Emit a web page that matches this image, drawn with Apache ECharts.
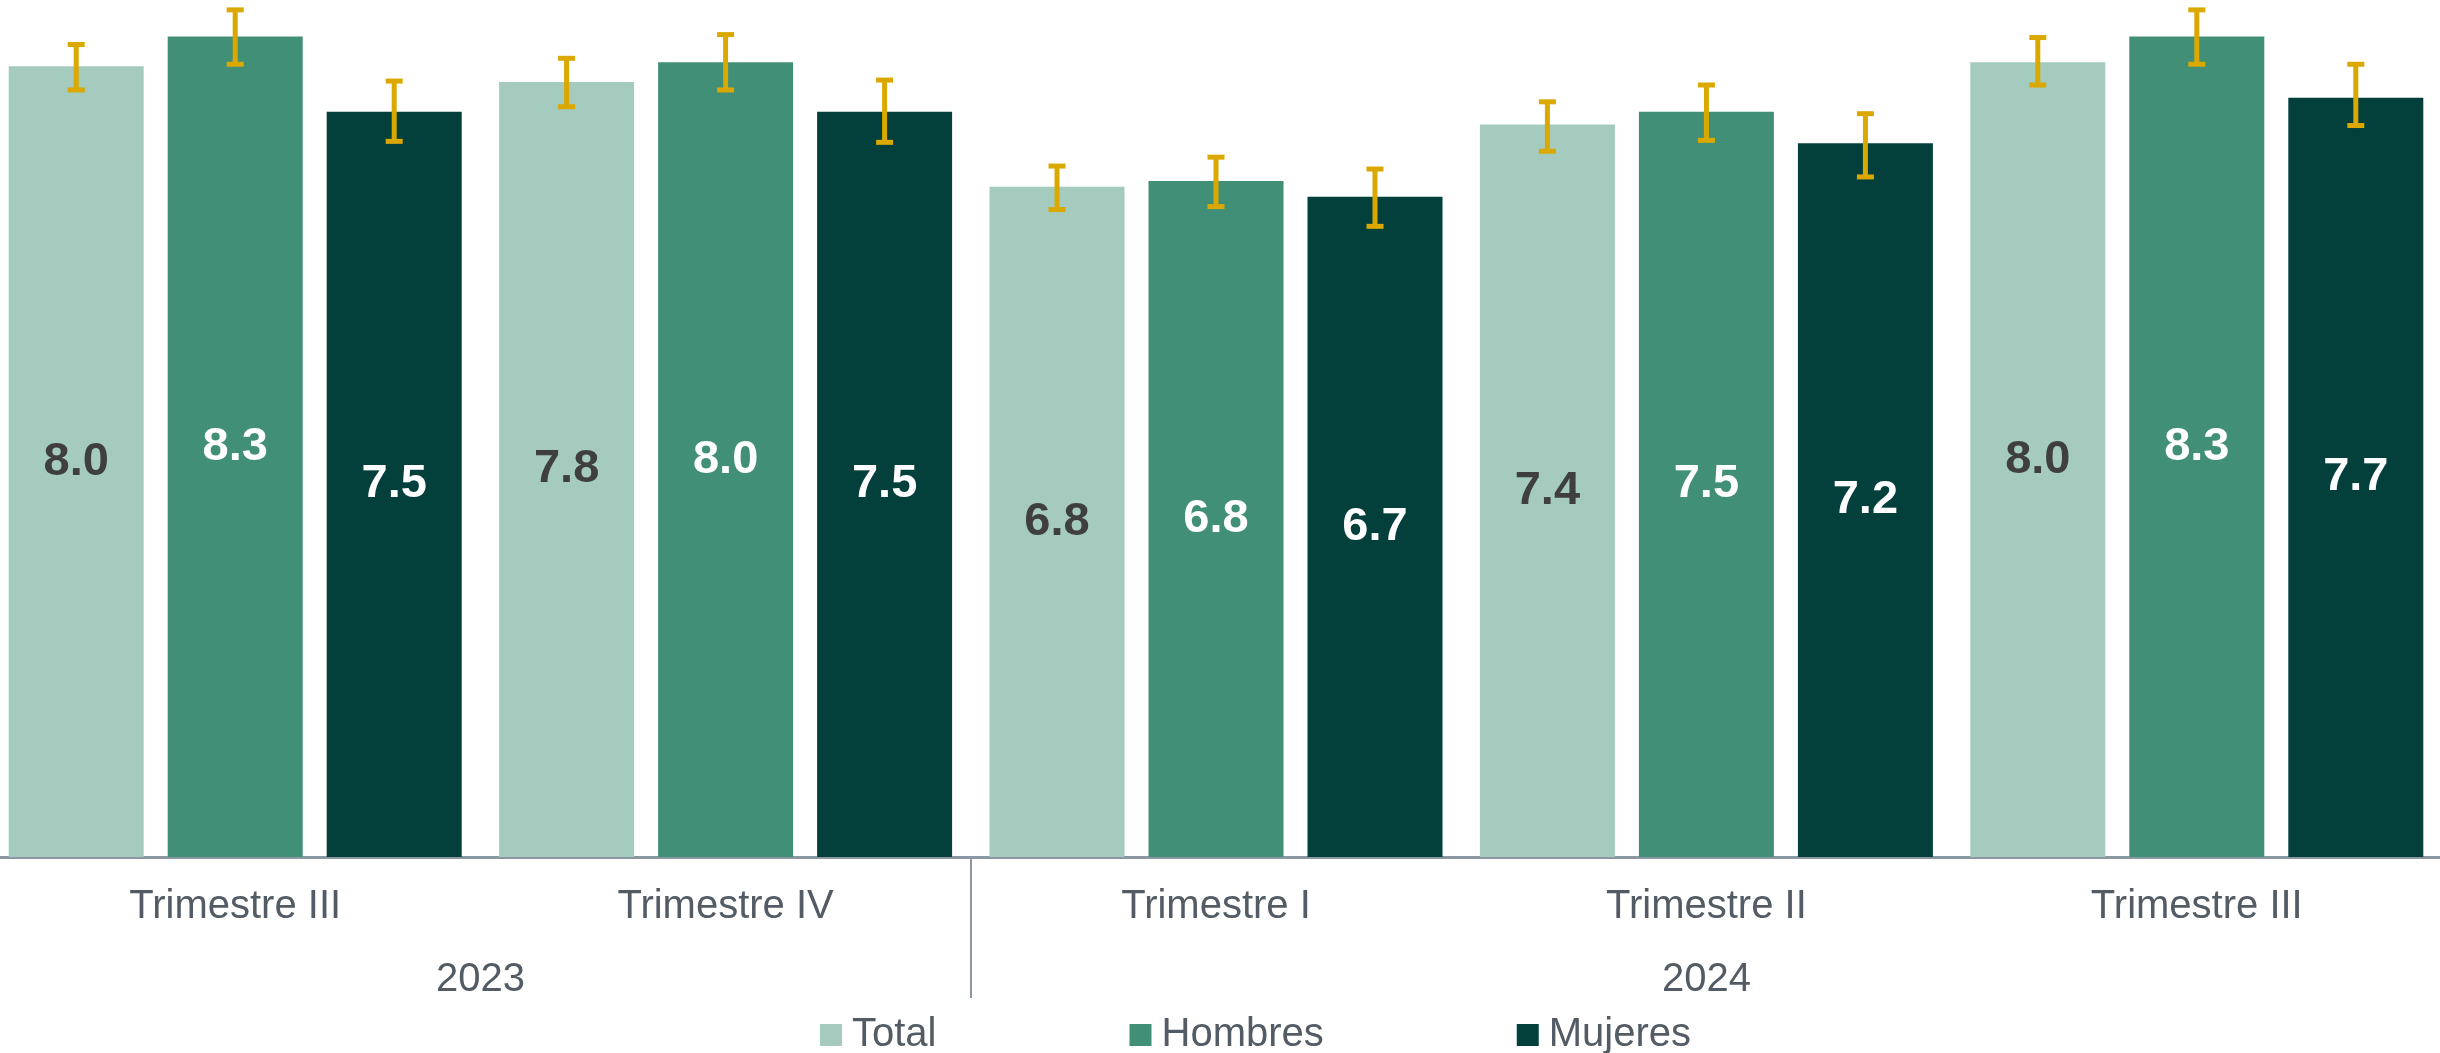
<!DOCTYPE html>
<html>
<head>
<meta charset="utf-8">
<script src="https://cdn.jsdelivr.net/npm/echarts@6/dist/echarts.min.js"></script>
<style>
  html, body { margin: 0; padding: 0; background: #fff; }
  #chart { width: 2440px; height: 1053px; }
</style>
</head>
<body>
<div id="chart"></div>
<script>
// categories
const trimestres = ['Trimestre III', 'Trimestre IV', 'Trimestre I', 'Trimestre II', 'Trimestre III']
const years = ['2023', '2024']
const yearSpans = [2, 3] // how many trimestres belong to each year

// values
const total = [8.00, 7.84, 6.78, 7.41, 8.04]
const hombres = [8.30, 8.04, 6.84, 7.54, 8.30]
const mujeres = [7.54, 7.54, 6.68, 7.22, 7.68]

// confidence intervals (low / high)
const totalLow = [7.76, 7.59, 6.55, 7.14, 7.81]
const totalHigh = [8.22, 8.08, 6.99, 7.64, 8.29]
const hombresLow = [8.02, 7.76, 6.58, 7.25, 8.02]
const hombresHigh = [8.57, 8.32, 7.08, 7.81, 8.57]
const mujeresLow = [7.24, 7.23, 6.38, 6.88, 7.40]
const mujeresHigh = [7.85, 7.86, 6.96, 7.52, 8.02]

const colors = ['#a4cbbe', '#428f77', '#03403c']
const labelColors = ['#3f3f3f', '#ffffff', '#ffffff']
const errColor = '#dba800'
const axisColor = '#8b97a2'
const textColor = '#535b64'
const font = '"Liberation Sans", Arial, sans-serif'

const barWidth = 135
const barGapPx = 24

// year separators and year label positions on a 0..n scale
const yearBounds = [0]
yearSpans.forEach(s => yearBounds.push(yearBounds[yearBounds.length - 1] + s))
const yearCenters = years.map((y, i) => (yearBounds[i] + yearBounds[i + 1]) / 2)

const chart = echarts.init(document.getElementById('chart'))

function barSeries(name, data, idx) {
  return {
    name: name,
    type: 'bar',
    data: data,
    barWidth: barWidth,
    barGap: (barGapPx / barWidth * 100) + '%',
    itemStyle: { color: colors[idx] },
    label: {
      show: true,
      position: 'inside',
      fontSize: 47,
      fontWeight: 'bold',
      fontFamily: font,
      color: labelColors[idx],
      formatter: p => p.value.toFixed(1)
    }
  }
}

function errorSeries(low, high, idx) {
  return {
    type: 'custom',
    z: 5,
    silent: true,
    data: low.map((l, i) => [i, l, high[i]]),
    renderItem: function (params, api) {
      const lo = api.coord([api.value(0), api.value(1)])
      const hi = api.coord([api.value(0), api.value(2)])
      const x = lo[0] + (idx - 1) * (barWidth + barGapPx)
      const capW = 17
      const capH = 5
      return {
        type: 'group',
        children: [
          {
            type: 'line',
            shape: { x1: x, y1: hi[1], x2: x, y2: lo[1] },
            style: { stroke: errColor, lineWidth: 5 }
          },
          {
            type: 'rect',
            shape: { x: x - capW / 2, y: hi[1] - capH / 2, width: capW, height: capH },
            style: { fill: errColor }
          },
          {
            type: 'rect',
            shape: { x: x - capW / 2, y: lo[1] - capH / 2, width: capW, height: capH },
            style: { fill: errColor }
          }
        ]
      }
    }
  }
}

chart.setOption({
  animation: false,
  backgroundColor: '#ffffff',
  grid: {
    left: -10,
    right: -2,
    top: 0,
    bottom: 196,
    containLabel: false,
    outerBoundsMode: 'none'
  },
  legend: {
    data: ['Total', 'Hombres', 'Mujeres'],
    left: 820,
    top: 1015,
    padding: 0,
    icon: 'rect',
    itemWidth: 22,
    itemHeight: 22,
    itemGap: 193,
    textStyle: {
      fontSize: 40,
      fontFamily: font,
      color: textColor,
      padding: [0, 0, 0, 5]
    }
  },
  xAxis: [
    {
      type: 'category',
      data: trimestres,
      axisLine: { lineStyle: { color: axisColor, width: 3 } },
      axisTick: { show: false },
      axisLabel: {
        fontSize: 40,
        fontFamily: font,
        color: textColor,
        margin: 30,
        interval: 0
      }
    },
    {
      type: 'value',
      position: 'bottom',
      min: 0,
      max: trimestres.length,
      axisLine: { show: false },
      splitLine: { show: false },
      axisTick: {
        show: true,
        customValues: yearBounds,
        length: 141,
        lineStyle: { color: axisColor, width: 2 }
      },
      axisLabel: {
        customValues: yearCenters,
        formatter: (v, i) => years[yearCenters.indexOf(v)],
        fontSize: 40,
        fontFamily: font,
        color: textColor,
        margin: 103
      }
    }
  ],
  yAxis: {
    type: 'value',
    min: 0,
    max: 8.67,
    show: false,
    splitLine: { show: false }
  },
  series: [
    barSeries('Total', total, 0),
    barSeries('Hombres', hombres, 1),
    barSeries('Mujeres', mujeres, 2),
    errorSeries(totalLow, totalHigh, 0),
    errorSeries(hombresLow, hombresHigh, 1),
    errorSeries(mujeresLow, mujeresHigh, 2)
  ]
})
</script>
</body>
</html>
